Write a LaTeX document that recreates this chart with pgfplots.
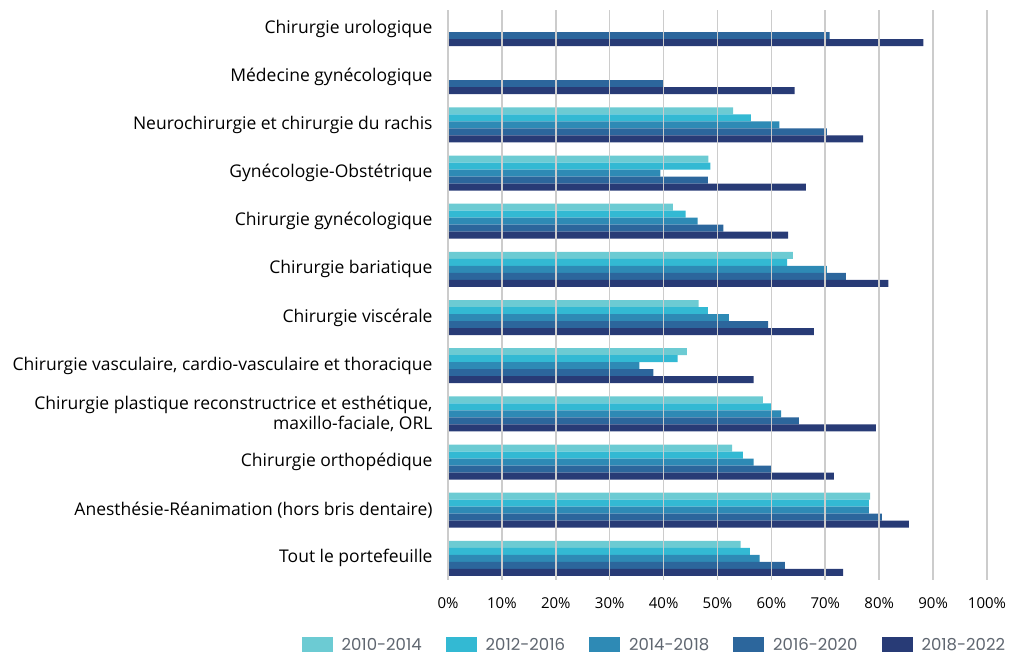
\documentclass[border=0pt]{standalone}
\usepackage{pgfplots}
\usepackage{pgfplotstable}
\pgfplotsset{compat=1.18}
\usepackage{fontspec}
\setmainfont{Open Sans}
\newfontfamily\legendfont{Poppins}

\definecolor{cA}{HTML}{6CCBD3}
\definecolor{cB}{HTML}{33B9D3}
\definecolor{cC}{HTML}{2E8AB5}
\definecolor{cD}{HTML}{2C669C}
\definecolor{cE}{HTML}{283B76}
\definecolor{gridgray}{HTML}{CCCCCC}
\definecolor{legendgray}{HTML}{5F6670}

% Share (%) per portfolio segment and period; row 0 is the bottom category
\pgfplotstableread{
y  p1014 p1216 p1418 p1620 p1822
0  54.3  56.0  57.8  62.5  73.3
1  78.3  78.1  78.1  80.5  85.5
2  52.7  54.7  56.7  59.9  71.6
3  58.4  59.9  61.8  65.1  79.4
4  44.3  42.6  35.5  38.1  56.7
5  46.5  48.2  52.1  59.4  67.9
6  64.0  62.9  70.3  73.8  81.7
7  41.7  44.1  46.3  51.1  63.1
8  48.3  48.7  39.4  48.2  66.4
9  52.9  56.2  61.5  70.3  77.0
10 nan   nan   nan   39.9  64.3
11 nan   nan   nan   70.8  88.2
}\shares

\begin{document}
\begin{tikzpicture}
\begin{axis}[
  scale only axis,
  width=539pt, height=570pt,
  xbar, bar width=7pt,
  xmin=0, xmax=100,
  ymin=-0.45, ymax=11.385,
  axis on top,
  axis line style={draw=none},
  tick style={draw=none},
  xmajorgrids, ymajorgrids=false,
  major grid style={gridgray, line width=1.6pt},
  xtick={0,10,...,100},
  xticklabel={\pgfmathprintnumber{\tick}\%},
  /pgf/number format/assume math mode=true,
  xticklabel style={font=\fontsize{15}{17}\selectfont, inner sep=0pt, yshift=-17pt, text=black},
  ytick={0,...,11},
  yticklabels={
    Tout le portefeuille,
    Anesthésie-Réanimation (hors bris dentaire),
    Chirurgie orthopédique,
    {Chirurgie plastique reconstructrice et esthétique,\\maxillo-faciale, ORL},
    {Chirurgie vasculaire, cardio-vasculaire et thoracique},
    Chirurgie viscérale,
    Chirurgie bariatique,
    Chirurgie gynécologique,
    Gynécologie-Obstétrique,
    Neurochirurgie et chirurgie du rachis,
    Médecine gynécologique,
    Chirurgie urologique},
  yticklabel style={font=\fontsize{17.5}{20.5}\selectfont, align=right, inner sep=0pt, xshift=-11pt, text=black},
  legend columns=5,
  legend style={draw=none, inner sep=0pt, at={(0.381,-0.114)}, anchor=center,
    font=\legendfont\fontsize{16.5}{18}\selectfont, text=legendgray,
    nodes={inner xsep=0pt},
    /tikz/every odd column/.append style={column sep=9pt},
    /tikz/every even column/.append style={column sep=24pt}},
  legend image code/.code={\fill[#1] (0pt,-7.5pt) rectangle (31pt,7.5pt);},
]
\addplot[fill=cA, draw=none, bar shift=14pt] table[x=p1014, y=y] {\shares};
\addplot[fill=cB, draw=none, bar shift=7pt]  table[x=p1216, y=y] {\shares};
\addplot[fill=cC, draw=none, bar shift=0pt]  table[x=p1418, y=y] {\shares};
\addplot[fill=cD, draw=none, bar shift=-7pt] table[x=p1620, y=y] {\shares};
\addplot[fill=cE, draw=none, bar shift=-14pt] table[x=p1822, y=y] {\shares};
\legend{2010-2014, 2012-2016, 2014-2018, 2016-2020, 2018-2022}
\end{axis}
\path ([xshift=-448pt,yshift=-75pt]current axis.south west)
  rectangle ([xshift=22pt,yshift=10pt]current axis.north east);
\end{tikzpicture}
\end{document}
